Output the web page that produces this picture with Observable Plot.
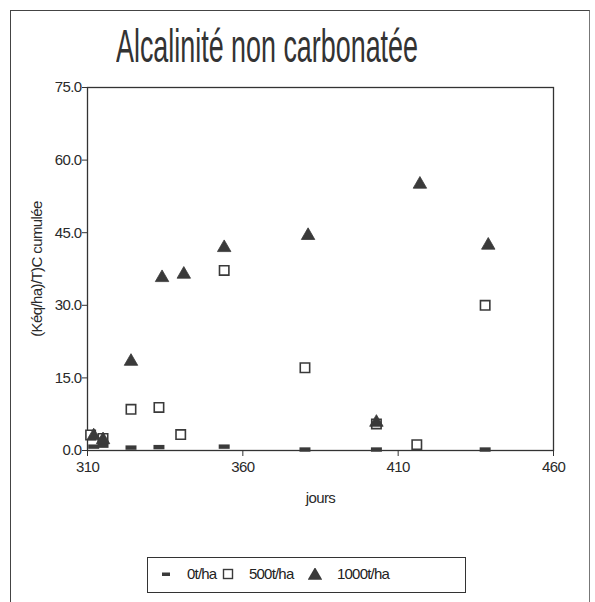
<!DOCTYPE html>
<html>
<head>
<meta charset="utf-8">
<script src="https://cdn.jsdelivr.net/npm/d3@7"></script>
<script src="https://cdn.jsdelivr.net/npm/@observablehq/plot@0.6"></script>
<style>
  html, body { margin: 0; padding: 0; background: #fff; }
  #page {
    position: relative; width: 595px; height: 602px; overflow: hidden;
    font-family: "Liberation Sans", Arial, sans-serif;
    color: #2a2a2a;
  }
  #sheet {
    position: absolute; left: 10px; top: 10px; width: 578px; height: 600px;
    border-left: 1.5px solid #444; border-top: 1.5px solid #444; border-right: 1px solid #777;
  }
  #title {
    position: absolute; left: 116px; top: 20px; white-space: nowrap;
    font-size: 46px; line-height: 52px; color: #333;
    transform-origin: 0 0;
  }
  #chart { position: absolute; left: 0; top: 0; }
  #chart svg text { letter-spacing: -0.6px; }
  #legend {
    position: absolute; left: 147px; top: 557px; width: 319px; height: 36px;
    border: 1.5px solid #333; box-sizing: border-box;
    font-size: 15px; color: #222;
  }
  #legend .icon { position: absolute; top: 10px; }
  #legend .name { position: absolute; top: 7px; letter-spacing: -0.8px; }
</style>
</head>
<body>
<div id="page">
  <div id="sheet"></div>
  <div id="title"></div>
  <div id="chart"></div>
  <div id="legend"></div>
</div>
<script>
// Series: day (jours) and cumulated non-carbonate alkalinity
const days0 = [312, 315, 324, 333, 354, 380, 403, 438];
const values0 = [0.8, 1.0, 0.6, 0.7, 0.8, 0.2, 0.2, 0.2];

const days500 = [311, 315, 324, 333, 340, 354, 380, 403, 416, 438];
const values500 = [3.2, 2.5, 8.5, 8.9, 3.3, 37.2, 17.1, 5.5, 1.2, 30.0];

const days1000 = [312, 315, 324, 334, 341, 354, 381, 403, 417, 439];
const values1000 = [3.0, 2.2, 18.4, 35.7, 36.4, 41.9, 44.4, 5.8, 55.0, 42.4];

const seriesNames = ["0t/ha", "500t/ha", "1000t/ha"];
const xTicks = [310, 360, 410, 460];
const yTicks = [0, 15, 30, 45, 60, 75];
const titleText = "Alcalinité non carbonatée";

const toRows = (days, values, s) => days.map((d, i) => ({jour: d, valeur: values[i], serie: s}));
const rows0 = toRows(days0, values0, seriesNames[0]);
const rows500 = toRows(days500, values500, seriesNames[1]);
const rows1000 = toRows(days1000, values1000, seriesNames[2]);

// Condensed title: tall glyphs squeezed horizontally to a 302px run
const title = document.getElementById("title");
title.textContent = titleText;
const natural = title.getBoundingClientRect().width;
title.style.transform = `scaleX(${302 / natural})`;

// small horizontal bar used for the 0t/ha series
const dash = {
  draw(context, size) {
    const w = Math.sqrt(size) * 1.0, h = w * 0.4;
    context.rect(-w / 2, -h / 2, w, h);
  }
};

const ink = "#3a3a3a";

const chart = Plot.plot({
  width: 595,
  height: 602,
  marginLeft: 87,
  marginRight: 42,
  marginTop: 87,
  marginBottom: 152,
  style: {fontFamily: '"Liberation Sans", Arial, sans-serif', fontSize: "15px", color: "#2a2a2a", background: "transparent"},
  x: {domain: [310, 460], ticks: xTicks},
  y: {domain: [0, 75], ticks: yTicks},
  marks: [
    Plot.frame({stroke: "#333", strokeWidth: 1.3}),
    Plot.axisY({
      ticks: yTicks, tickFormat: d3.format(".1f"), tickSize: 5, tickPadding: 1,
      label: "(Kéq/ha)/T)C cumulée", labelAnchor: "center", labelArrow: "none",
      labelOffset: 56, fontSize: 15, stroke: "#333"
    }),
    Plot.axisX({
      ticks: xTicks, tickFormat: d3.format("d"), tickSize: 6, tickPadding: 5,
      label: "jours", labelAnchor: "center", labelArrow: "none",
      labelOffset: 52, fontSize: 15, stroke: "#333"
    }),
    Plot.dot(rows0, {x: "jour", y: "valeur", symbol: dash, r: 6.2, fill: ink, stroke: "none"}),
    Plot.dot(rows500, {x: "jour", y: "valeur", symbol: "square", r: 5.3, fill: "white", stroke: ink, strokeWidth: 1.6}),
    Plot.dot(rows1000, {x: "jour", y: "valeur", symbol: "triangle", r: 5.0, fill: ink, stroke: ink, strokeWidth: 0.8})
  ]
});
document.getElementById("chart").appendChild(chart);

// Legend built from the same series names and marker shapes
const legend = d3.select("#legend");
const iconX = [12, 74, 160];
const nameX = [39, 101, 189];
const shapes = [
  g => g.append("rect").attr("x", 2).attr("y", 4.5).attr("width", 8).attr("height", 3.5).attr("fill", ink),
  g => g.append("rect").attr("x", 1.5).attr("y", 1.5).attr("width", 9).attr("height", 9).attr("fill", "white").attr("stroke", ink).attr("stroke-width", 1.4),
  g => g.append("path").attr("d", d3.symbol(d3.symbolTriangle, 90)()).attr("transform", "translate(7,7.5)").attr("fill", ink)
];
seriesNames.forEach((name, i) => {
  const svg = legend.append("svg").attr("class", "icon").attr("width", 14).attr("height", 13)
    .style("left", iconX[i] + "px");
  shapes[i](svg);
  legend.append("span").attr("class", "name").style("left", nameX[i] + "px").text(name);
});
</script>
</body>
</html>
